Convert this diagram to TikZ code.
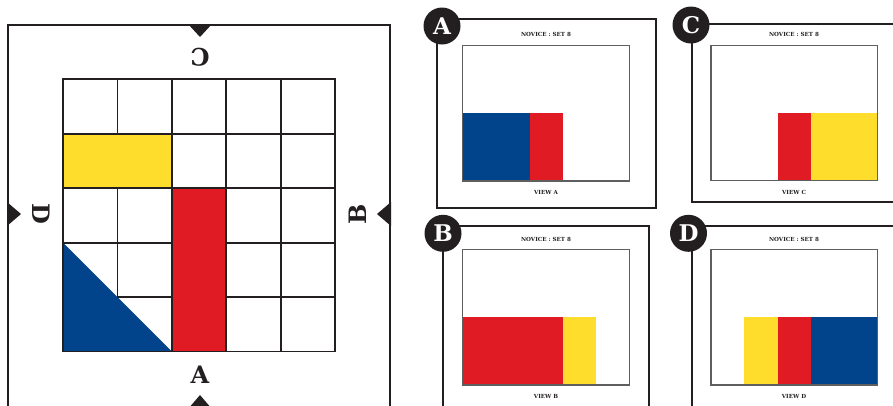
\documentclass[tikz,border=0pt]{standalone}
\usepackage{fontspec}
\setmainfont{DejaVu Serif}
\definecolor{ink}{HTML}{231F20}
\definecolor{mblue}{RGB}{2,68,140}
\definecolor{mred}{RGB}{225,27,36}
\definecolor{myel}{RGB}{254,221,44}
\definecolor{boxgray}{RGB}{95,95,95}
\begin{document}
\begin{tikzpicture}[x=1pt,y=-1pt,
  frame/.style={draw=ink,line width=2pt},
  gridline/.style={draw=ink,line width=1.8pt,line cap=rect},
  innerbox/.style={draw=boxgray,line width=1.2pt},
  badge/.style={circle,fill=ink,text=white,minimum size=37pt,inner sep=0pt,font=\bfseries\fontsize{23}{23}\selectfont},
  side/.style={text=ink,font=\bfseries\fontsize{24}{24}\selectfont,inner sep=0pt},
  small/.style={text=ink,font=\bfseries\fontsize{5.6}{6}\selectfont,inner sep=0pt},
  marker/.style={fill=ink}]
\useasboundingbox (0,0) rectangle (893,405);
\clip (0,0) rectangle (893,405);
\fill[white] (0,0) rectangle (893,405);

% ---------- left board ----------
\draw[frame] (8,25) rectangle (390,409);
\fill[marker] (188,24) -- (212,24) -- (200,37) -- cycle;
\fill[marker] (7,202) -- (7,226) -- (21,214) -- cycle;
\fill[marker] (391,202) -- (391,226) -- (377,214) -- cycle;
\fill[marker] (188,409) -- (212,409) -- (200,395) -- cycle;

\begin{scope}[shift={(63,79.3)},x=54.45pt,y=-54.45pt]
  \fill[myel] (0,1) rectangle (2,2);
  \fill[mred] (2,2) rectangle (3,5);
  \fill[mblue] (0,3) -- (0,5) -- (2,5) -- cycle;
  % horizontal lines
  \draw[gridline] (0,0) -- (5,0);
  \draw[gridline] (0,1) -- (5,1);
  \draw[gridline] (0,2) -- (5,2);
  \draw[gridline] (0,3) -- (2,3) (3,3) -- (5,3);
  \draw[gridline] (1,4) -- (2,4) (3,4) -- (5,4);
  \draw[gridline] (0,5) -- (5,5);
  % vertical lines
  \draw[gridline] (0,0) -- (0,5);
  \draw[gridline] (1,0) -- (1,1) (1,2) -- (1,4);
  \draw[gridline] (2,0) -- (2,5);
  \draw[gridline] (3,0) -- (3,5);
  \draw[gridline] (4,0) -- (4,5);
  \draw[gridline] (5,0) -- (5,5);
\end{scope}

\node[side,rotate=180] (lc) at (200,57) {C};
\node[side] (la) at (200,375) {A};
\node[side,rotate=-90] (ld) at (41,214) {D};
\node[side,rotate=90] (lb) at (358,214) {B};

% ---------- view A ----------
\draw[frame] (437,19) rectangle (656,208);
\fill[mblue] (462.7,113.3) rectangle (530,181);
\fill[mred] (530,113.3) rectangle (562.7,181);
\draw[innerbox] (462.7,45.7) rectangle (629.3,181);
\node[small] (ta) at (546,34) {NOVICE : SET 8};
\node[small] (va) at (546,192) {VIEW A};
\node[badge] (ba) at (442,26) {A};

% ---------- view B ----------
\draw[frame] (442.7,226) rectangle (649.3,420);
\fill[mred] (462.7,316.7) rectangle (562.7,385);
\fill[myel] (562.7,316.7) rectangle (595.7,385);
\draw[innerbox] (462.7,249.3) rectangle (629.3,385);
\node[small] (tb) at (546,239) {NOVICE : SET 8};
\node[small] (vb) at (546,396) {VIEW B};
\node[badge] (bb) at (443,233.3) {B};

% ---------- view C ----------
\draw[frame] (691.7,24) rectangle (905,201.7);
\fill[mred] (777.5,113.3) rectangle (810.5,180.3);
\fill[myel] (810.5,113.3) rectangle (877.3,180.3);
\draw[innerbox] (711,45.7) rectangle (877.3,180.3);
\node[small] (tc) at (794,34) {NOVICE : SET 8};
\node[small] (vc) at (794,192) {VIEW C};
\node[badge] (bc) at (691,25) {C};

% ---------- view D ----------
\draw[frame] (691.7,226) rectangle (905,420);
\fill[myel] (744,316.7) rectangle (777.5,385);
\fill[mred] (777.5,316.7) rectangle (810.5,385);
\fill[mblue] (810.5,316.7) rectangle (877.3,385);
\draw[innerbox] (711,249.3) rectangle (877.3,385);
\node[small] (td) at (794,239) {NOVICE : SET 8};
\node[small] (vd) at (794,396) {VIEW D};
\node[badge] (bd) at (688.5,233.3) {D};
\end{tikzpicture}
\end{document}
